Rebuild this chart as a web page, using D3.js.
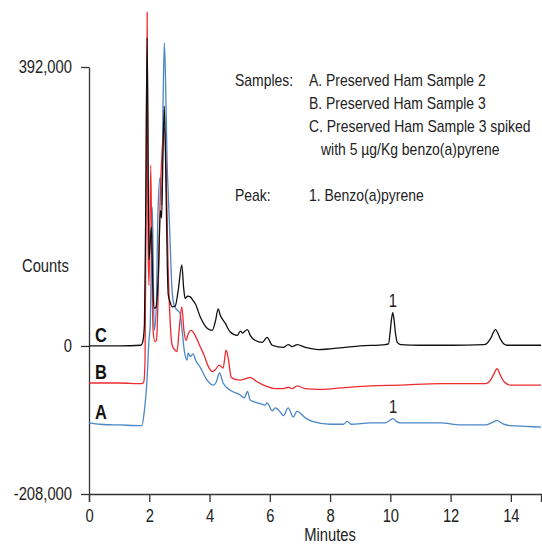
<!DOCTYPE html>
<html>
<head>
<meta charset="utf-8">
<script src="https://cdn.jsdelivr.net/npm/d3@7"></script>
<style>
  body { margin: 0; background: #fff; }
  svg text { font-family: "Liberation Sans", Arial, sans-serif; fill: #222; }
  .axis path, .axis line { stroke: #333; stroke-width: 1.3; }
  .axis text { font-size: 18px; }
</style>
</head>
<body>
<div class="gv-chart"></div>
<script>
// retention time (minutes) and counts
var timeC = [0, 1.0, 1.72, 1.78, 1.84, 1.88, 1.93, 1.99, 2.07, 2.12, 2.17, 2.23, 2.3, 2.37, 2.41, 2.45, 2.5, 2.55, 2.6, 2.63, 2.69, 2.76, 2.86, 2.96, 3.08, 3.14, 3.19, 3.28, 3.36, 3.45, 3.52, 3.69, 3.92, 4.09, 4.19, 4.29, 4.35, 4.52, 4.68, 4.92, 5.02, 5.1, 5.15, 5.26, 5.35, 5.51, 5.75, 5.91, 6.08, 6.45, 6.61, 6.74, 6.91, 7.18, 7.61, 8.01, 8.5, 9.0, 9.83, 9.94, 9.99, 10.04, 10.08, 10.12, 10.17, 10.23, 10.34, 11.0, 12.0, 13.1, 13.19, 13.32, 13.49, 13.65, 13.76, 13.88, 14.3, 15];
var countsC = [0, 0, 1000, 5000, 30000, 180000, 433000, 121000, 167000, 80000, 53000, 55000, 100000, 190000, 180000, 260000, 337000, 240000, 110000, 72000, 62000, 55000, 56000, 78000, 114000, 82000, 67000, 70000, 69000, 64000, 60000, 41000, 25000, 22000, 34000, 52000, 44000, 32000, 20000, 15000, 21000, 18000, 20000, 23000, 15000, 8000, 5000, 12000, 1000, -2000, 2000, -1000, 2000, -2000, -5000, -4000, -2000, 0, 2000, 3000, 18000, 38000, 47000, 38000, 18000, 5000, 2000, 1000, 1000, 2000, 3000, 10000, 23000, 10000, 3000, 1000, 1000, 1000];

var timeB = [0, 1.0, 1.76, 1.82, 1.86, 1.9, 1.93, 1.96, 1.99, 2.05, 2.09, 2.13, 2.19, 2.24, 2.29, 2.36, 2.43, 2.51, 2.56, 2.62, 2.69, 2.76, 2.86, 2.92, 2.99, 3.08, 3.15, 3.22, 3.3, 3.39, 3.52, 3.69, 3.82, 3.95, 4.09, 4.2, 4.32, 4.45, 4.55, 4.62, 4.72, 4.85, 5.02, 5.2, 5.35, 5.5, 5.61, 5.85, 6.18, 6.45, 6.61, 6.74, 6.91, 7.18, 7.61, 8.34, 9.34, 10.33, 11.66, 13.16, 13.29, 13.42, 13.54, 13.65, 13.79, 13.99, 15];
var countsB = [-52000, -52000, -53000, -50000, -20000, 250000, 469000, 150000, 85000, 254000, 100000, 20000, 6000, 8000, 65000, 205000, 275000, 306000, 247000, 121000, 37000, 1000, -6000, -8000, 22000, 55000, 22000, 8000, 18000, 22000, 15000, -1000, -13000, -28000, -36000, -33000, -27000, -31000, -6000, -17000, -44000, -47000, -48000, -46000, -44000, -48000, -51000, -56000, -60000, -60000, -58000, -60000, -56000, -60000, -61000, -59000, -56000, -55000, -53000, -53000, -50000, -41000, -32000, -41000, -51000, -55000, -55000];

var timeA = [0, 0.37, 1.03, 1.75, 1.83, 1.93, 1.99, 2.03, 2.1, 2.13, 2.16, 2.23, 2.29, 2.36, 2.41, 2.46, 2.5, 2.54, 2.59, 2.63, 2.69, 2.75, 2.82, 2.91, 3.02, 3.09, 3.16, 3.25, 3.29, 3.37, 3.45, 3.55, 3.69, 3.92, 4.12, 4.22, 4.33, 4.45, 4.68, 5.02, 5.15, 5.26, 5.35, 5.68, 5.85, 5.91, 6.08, 6.18, 6.35, 6.45, 6.61, 6.78, 6.9, 7.18, 7.41, 8.01, 8.44, 8.57, 8.7, 9.34, 9.83, 9.97, 10.09, 10.2, 10.33, 11.66, 12.33, 13.16, 13.36, 13.54, 13.72, 13.99, 14.49, 15];
var countsA = [-108000, -110000, -111000, -112000, -94000, -44000, 8000, 27000, 195000, 121000, 22000, 51000, 191000, 237000, 198000, 346000, 426000, 374000, 261000, 215000, 149000, 83000, 58000, 51000, 46000, 22000, -6000, -20000, -10000, -15000, -11000, -21000, -30000, -48000, -55000, -51000, -38000, -52000, -62000, -69000, -73000, -64000, -76000, -81000, -83000, -80000, -91000, -87000, -93000, -98000, -87000, -100000, -92000, -101000, -106000, -110000, -110000, -106000, -110000, -108000, -108000, -105000, -102000, -106000, -108000, -108000, -111000, -111000, -108000, -105000, -109000, -112000, -113000, -114000];

var seriesNames = ["A", "B", "C"];
var seriesColors = ["#4a87c6", "#ee2b2f", "#111111"];

var xTicks = [0, 2, 4, 6, 8, 10, 12, 14];
var yTicks = [392000, 0, -208000];

// peak 1 = benzo(a)pyrene, labelled on C and A
var peakLabels = [
  {series: "C", time: 10.08, counts: 47000, text: "1"},
  {series: "A", time: 10.09, counts: -102000, text: "1"}
];

var legendSamples = [
  "A. Preserved Ham Sample 2",
  "B. Preserved Ham Sample 3",
  "C. Preserved Ham Sample 3 spiked",
  "with 5 µg/Kg benzo(a)pyrene"
];
var legendPeaks = ["1. Benzo(a)pyrene"];

var W = 542, H = 546;
var margin = {top: 67, right: 1, bottom: 52, left: 89};

var svg = d3.select(".gv-chart").append("svg")
    .attr("width", W).attr("height", H);

var x = d3.scaleLinear().domain([0, 15]).range([margin.left, W - margin.right]);
var y = d3.scaleLinear().domain([-208000, 392000]).range([H - margin.bottom, margin.top]);

var line = d3.line()
    .x(function(d) { return x(d.t); })
    .y(function(d) { return y(d.v); })
    .curve(d3.curveMonotoneX);

function pairs(ts, vs) {
  return ts.map(function(t, i) { return {t: t, v: vs[i]}; });
}

var series = [
  {name: "A", values: pairs(timeA, countsA)},
  {name: "B", values: pairs(timeB, countsB)},
  {name: "C", values: pairs(timeC, countsC)}
];

var color = d3.scaleOrdinal().domain(seriesNames).range(seriesColors);

// axes
svg.append("g")
    .attr("class", "axis axis--x")
    .attr("transform", "translate(0," + y(-208000) + ")")
    .call(d3.axisBottom(x).tickValues(xTicks).tickSize(8).tickSizeOuter(8).tickPadding(7));

var fmt = d3.format(",");
svg.append("g")
    .attr("class", "axis axis--y")
    .attr("transform", "translate(" + x(0) + ",0)")
    .call(d3.axisLeft(y).tickValues(yTicks).tickSize(8).tickSizeOuter(0).tickPadding(9)
      .tickFormat(function(d) { return fmt(d).replace("\u2212", "-"); }));

svg.selectAll(".axis").attr("font-family", null).attr("font-size", null);

// traces
svg.append("clipPath").attr("id", "plot-clip")
  .append("rect").attr("x", x(0)).attr("y", 0).attr("width", W - x(0)).attr("height", y(-208000));

svg.append("g").attr("clip-path", "url(#plot-clip)")
  .selectAll("path.trace")
  .data(series)
  .enter().append("path")
    .attr("class", "trace")
    .attr("fill", "none")
    .attr("stroke", function(d) { return color(d.name); })
    .attr("stroke-width", 1.3)
    .attr("stroke-linejoin", "round")
    .attr("d", function(d) { return line(d.values); });

// series letters
svg.selectAll("text.series-label")
  .data(series)
  .enter().append("text")
    .attr("class", "series-label")
    .attr("x", x(0) + 6)
    .attr("y", function(d) { return y(d.values[0].v) - 4; })
    .style("font-size", "20px")
    .style("font-weight", "bold")
    .style("fill", "#111")
    .text(function(d) { return d.name; });

// peak labels
svg.selectAll("text.peak-label")
  .data(peakLabels)
  .enter().append("text")
    .attr("class", "peak-label")
    .attr("x", function(d) { return x(d.time); })
    .attr("y", function(d) { return y(d.counts) - 6; })
    .attr("text-anchor", "middle")
    .style("font-size", "18px")
    .text(function(d) { return d.text; });

// axis titles
svg.append("text")
    .attr("x", 22).attr("y", 272)
    .style("font-size", "18px")
    .text("Counts");

svg.append("text")
    .attr("x", 330).attr("y", 541)
    .attr("text-anchor", "middle")
    .style("font-size", "18px")
    .text("Minutes");

// legend
var legend = svg.append("g").style("font-size", "17px");
legend.append("text").attr("x", 235).attr("y", 86).text("Samples:");
legend.selectAll("text.sample")
  .data(legendSamples)
  .enter().append("text")
    .attr("class", "sample")
    .attr("x", function(d, i) { return i == 3 ? 321 : 309; })
    .attr("y", function(d, i) { return 86 + i * 23; })
    .text(function(d) { return d; });

legend.append("text").attr("x", 235).attr("y", 201).text("Peak:");
legend.selectAll("text.peak")
  .data(legendPeaks)
  .enter().append("text")
    .attr("class", "peak")
    .attr("x", 309)
    .attr("y", 201)
    .text(function(d) { return d; });

// the original uses a narrow face: squeeze every label to ~82% width
svg.selectAll("text").each(function() {
  var w = this.getComputedTextLength();
  d3.select(this).attr("textLength", w * 0.82).attr("lengthAdjust", "spacingAndGlyphs");
});
</script>
</body>
</html>
